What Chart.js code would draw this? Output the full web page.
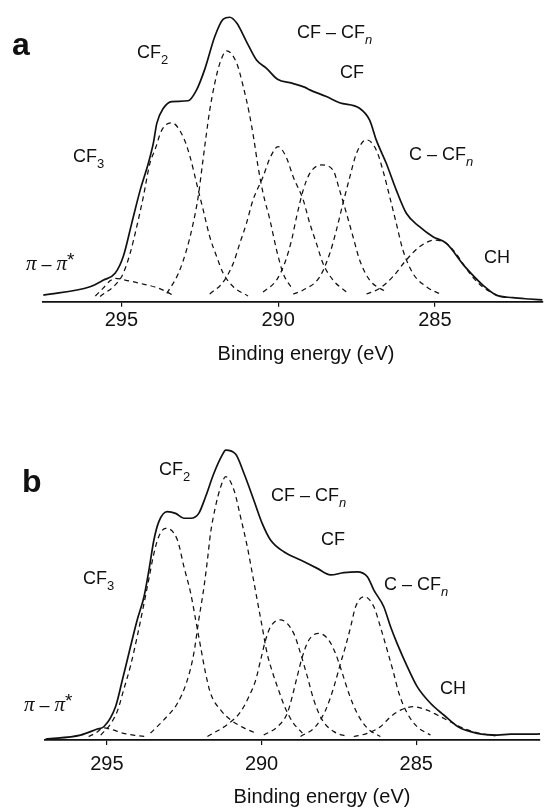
<!DOCTYPE html>
<html>
<head>
<meta charset="utf-8">
<script src="https://cdn.jsdelivr.net/npm/chart.js@4.4.1/dist/chart.umd.min.js"></script>
<style>
  html, body { margin: 0; padding: 0; background: #fff; }
  #wrap { position: relative; width: 544px; height: 808px; }
  canvas { position: absolute; left: 0; }
  #chartA { top: 0; }
  #chartB { top: 404px; }
</style>
</head>
<body>
<div id="wrap">
  <canvas id="chartA" width="544" height="404"></canvas>
  <canvas id="chartB" width="544" height="404"></canvas>
</div>
<script>
// [binding energy (eV), intensity (arb. units, envelope max = 100)]
const tickValues = [295, 290, 285];
const axisTitle = "Binding energy (eV)";

// ---- panel a ----
const envelopeA = [
  [297.49, 0.5], [296.0, 3.5], [295.57, 5.9], [295.2, 8.3], [294.94, 14.3], [294.67, 26.2],
  [294.4, 38.1], [294.14, 47.7], [293.98, 54.9], [293.87, 62.0], [293.66, 67.4], [293.39, 69.8],
  [292.87, 70.1], [292.6, 74.0], [292.33, 81.7], [292.02, 93.1], [291.75, 99.3], [291.54, 100],
  [291.32, 97.9], [291.01, 91.3], [290.69, 84.7], [290.37, 81.7], [290.02, 77.8], [289.56, 76.4],
  [289.14, 74.9], [288.99, 74.0], [288.46, 71.6], [288.04, 69.4], [287.4, 67.4], [287.08, 63.2],
  [286.87, 56.1], [286.55, 47.7], [286.23, 38.1], [285.91, 29.8], [285.49, 25.0], [285.06, 21.4],
  [284.64, 19.1], [284.04, 10.7], [283.47, 4.1], [283.04, 0.5], [282.52, -0.4], [281.98, -0.9],
  [281.57, -1.2],
];
const piPiA = [
  [295.83, 0.2], [295.58, 3.0], [295.35, 5.7], [295.2, 6.5], [294.88, 5.9], [294.4, 4.7],
  [293.93, 3.4], [293.61, 2.0], [293.29, 0],
];
const cf3A = [
  [295.68, 0], [295.15, 4.7], [294.94, 8.3], [294.72, 15.5], [294.51, 25.0], [294.3, 35.7],
  [294.09, 47.7], [293.93, 52.5], [293.71, 59.6], [293.39, 62.2], [293.03, 57.2], [292.81, 50.1],
  [292.6, 40.5], [292.39, 31.0], [292.18, 21.4], [291.96, 14.3], [291.75, 8.3], [291.43, 3.5],
  [290.96, 0.2],
];
const cf2A = [
  [293.55, 1.1], [293.18, 8.3], [292.92, 16.7], [292.71, 26.2], [292.55, 35.7], [292.41, 47.7],
  [292.3, 57.2], [292.18, 66.8], [292.02, 76.4], [291.86, 83.5], [291.64, 88.0], [291.32, 83.5],
  [291.11, 75.1], [290.92, 65.6], [290.77, 56.1], [290.64, 46.5], [290.48, 37.0], [290.26, 27.4],
  [290.05, 16.7], [289.84, 8.3], [289.52, 2.3],
];
const cfCfnA = [
  [292.18, 0.9], [291.75, 5.2], [291.43, 11.9], [291.22, 19.1], [291.01, 26.2], [290.8, 34.6],
  [290.48, 42.9], [290.26, 49.6], [290.0, 53.7], [289.73, 49.6], [289.52, 42.9], [289.2, 34.6],
  [288.99, 26.2], [288.78, 19.1], [288.57, 11.9], [288.25, 5.9], [287.82, 1.6],
];
const cfA = [
  [290.48, 1.6], [290.05, 5.9], [289.79, 11.9], [289.57, 20.2], [289.41, 28.6], [289.2, 38.1],
  [288.99, 44.1], [288.62, 47.1], [288.25, 45.3], [288.04, 38.1], [287.82, 29.8], [287.61, 21.4],
  [287.4, 13.1], [287.08, 5.9], [286.55, 1.6],
];
const cCfnA = [
  [289.52, 0.9], [289.2, 2.3], [288.67, 7.1], [288.35, 15.5], [288.14, 23.8], [287.93, 33.4],
  [287.71, 42.9], [287.5, 51.3], [287.18, 56.1], [286.87, 52.5], [286.66, 45.3], [286.44, 35.7],
  [286.23, 26.2], [286.02, 16.7], [285.7, 8.3], [285.27, 3.5], [284.75, 0.5],
];
const chA = [
  [287.18, 0.9], [286.76, 2.9], [286.34, 7.1], [285.91, 13.1], [285.49, 17.8], [285.01, 20.2],
  [284.64, 19.1], [284.34, 15.6], [284.04, 10.7], [283.74, 6.3], [283.47, 3.4], [283.04, 0.5],
];

// ---- panel b ----
const envelopeB = [
  [296.98, -0.9], [295.85, 0.5], [295.31, 2.6], [295.1, 3.4], [294.72, 10.4], [294.5, 19.7],
  [294.29, 29.0], [294.02, 40.7], [293.8, 48.8], [293.64, 58.1], [293.48, 68.6], [293.32, 75.0],
  [293.05, 78.5], [292.78, 77.9], [292.51, 76.2], [292.29, 76.2], [292.03, 77.9], [291.81, 83.7],
  [291.54, 91.9], [291.27, 98.3], [291.16, 100], [290.84, 98.6], [290.57, 91.9], [290.25, 82.5],
  [289.98, 74.4], [289.71, 68.6], [289.28, 64.5], [288.74, 61.6], [288.2, 58.7], [287.77, 56.4],
  [287.34, 57.2], [286.91, 57.5], [286.58, 55.8], [286.37, 51.1], [286.05, 45.3], [285.83, 38.3],
  [285.62, 32.5], [285.29, 24.4], [284.97, 17.4], [284.54, 11.6], [284.11, 7.5], [283.62, 3.2],
  [283.03, 1.1], [282.38, 0.5], [281.95, 0.8], [281.31, 0.8], [280.99, 0.9],
];
const piPiB = [
  [295.59, 0], [295.36, 1.2], [295.1, 3.0], [294.81, 2.3], [294.49, 1.2], [294.14, 0.5], [293.72, 0],
];
const cf3B = [
  [295.2, 0.5], [294.88, 4.4], [294.65, 9.2], [294.46, 16.2], [294.23, 24.9], [294.01, 35.4],
  [293.81, 45.9], [293.65, 54.6], [293.49, 63.4], [293.33, 69.6], [293.1, 72.7], [292.72, 68.6],
  [292.51, 59.3], [292.29, 50.0], [292.13, 40.7], [291.97, 31.3], [291.81, 22.1], [291.65, 15.1],
  [291.32, 9.2], [291.0, 5.8], [290.57, 3.0], [290.19, 1.2],
];
const cf2B = [
  [293.59, 1.2], [293.16, 5.8], [292.72, 11.6], [292.4, 19.7], [292.19, 29.0], [292.03, 40.7],
  [291.86, 52.3], [291.75, 61.6], [291.65, 70.9], [291.49, 80.2], [291.32, 87.2], [291.16, 90.7],
  [290.89, 86.0], [290.68, 76.7], [290.46, 66.2], [290.3, 57.0], [290.14, 47.6], [289.98, 38.3],
  [289.82, 29.0], [289.64, 22.2], [289.45, 16.2], [289.26, 10.6], [289.0, 5.1], [288.68, 1.2],
];
const cfCfnB = [
  [291.75, 0], [291.08, 4.4], [290.68, 8.6], [290.42, 13.7], [290.19, 19.7], [290.03, 26.7],
  [289.87, 33.7], [289.71, 38.3], [289.39, 40.7], [288.96, 36.0], [288.74, 29.0], [288.52, 20.9],
  [288.31, 12.7], [288.04, 5.8], [287.66, 1.7], [287.23, 0],
];
const cfB = [
  [289.93, 0.5], [289.49, 3.4], [289.17, 8.1], [289.01, 13.9], [288.85, 20.9], [288.68, 27.9],
  [288.47, 33.7], [288.15, 36.0], [287.83, 33.7], [287.61, 29.0], [287.39, 22.1], [287.18, 15.1],
  [286.91, 8.1], [286.58, 2.9], [286.16, 0],
];
const cCfnB = [
  [288.74, 0], [288.26, 3.4], [287.93, 9.2], [287.66, 17.4], [287.45, 25.5], [287.29, 31.3],
  [287.12, 38.3], [286.96, 45.3], [286.69, 48.8], [286.37, 45.3], [286.16, 38.3], [285.94, 30.2],
  [285.73, 22.1], [285.56, 15.1], [285.29, 8.1], [284.97, 3.4], [284.54, 0.5],
];
const chB = [
  [287.02, 0], [286.58, 1.1], [286.16, 3.4], [285.83, 6.9], [285.51, 9.2], [285.08, 10.4],
  [284.65, 9.2], [284.32, 7.5], [283.89, 5.1], [283.41, 2.6], [282.92, 1.0], [282.44, 0.2],
];

// text helpers
const ink = "#111";
const sans = (px, style = "") => `${style} ${px}px "Liberation Sans", Arial, sans-serif`.trim();
const txt = (t) => ({ t, font: sans(18), dy: 0 });
const sub = (t, italic) => ({ t, font: sans(13, italic ? "italic" : ""), dy: 6 });
const pi = () => ({ t: "π", font: 'italic 21px "Liberation Serif", "DejaVu Serif", serif', dy: 0 });
const star = () => ({ t: "*", font: sans(19), dy: -4 });
const bold = (t) => ({ t, font: sans(32, "bold"), dy: 0 });

const labelsA = [
  { parts: [bold("a")], x: 12, y: 55 },
  { parts: [txt("CF"), sub("2")], x: 137, y: 58 },
  { parts: [txt("CF – CF"), sub("n", true)], x: 297, y: 38 },
  { parts: [txt("CF")], x: 340, y: 78 },
  { parts: [txt("C – CF"), sub("n", true)], x: 409, y: 160 },
  { parts: [txt("CF"), sub("3")], x: 73, y: 162 },
  { parts: [pi(), txt(" – "), pi(), star()], x: 26, y: 270 },
  { parts: [txt("CH")], x: 484, y: 263 },
];
const labelsB = [
  { parts: [bold("b")], x: 22, y: 88 },
  { parts: [txt("CF"), sub("2")], x: 159, y: 71 },
  { parts: [txt("CF – CF"), sub("n", true)], x: 271, y: 97 },
  { parts: [txt("CF")], x: 321, y: 141 },
  { parts: [txt("C – CF"), sub("n", true)], x: 384, y: 186 },
  { parts: [txt("CF"), sub("3")], x: 83, y: 180 },
  { parts: [pi(), txt(" – "), pi(), star()], x: 24, y: 307 },
  { parts: [txt("CH")], x: 440, y: 290 },
];

const peakLabels = {
  id: "peakLabels",
  afterDraw(c, args, opts) {
    const ctx = c.ctx;
    ctx.save();
    ctx.fillStyle = ink;
    ctx.textBaseline = "alphabetic";
    ctx.textAlign = "left";
    opts.items.forEach((item) => {
      let x = item.x;
      item.parts.forEach((p) => {
        ctx.font = p.font;
        ctx.fillText(p.t, x, item.y + p.dy);
        x += ctx.measureText(p.t).width;
      });
    });
    // axis title
    ctx.font = sans(20);
    ctx.textAlign = "center";
    ctx.textBaseline = "middle";
    ctx.fillText(axisTitle, opts.titleX, opts.titleY);
    ctx.restore();
  },
};

const makePanel = (id, curves, cfg) => {
  new Chart(document.getElementById(id), {
    type: "line",
    data: {
      datasets: curves.map((curve, i) => ({
        data: curve.map(([x, y]) => ({ x, y })),
        borderColor: ink,
        borderWidth: i === 0 ? 1.7 : 1.25,
        borderDash: i === 0 ? [] : [5, 4],
        pointRadius: 0,
        cubicInterpolationMode: "monotone",
        fill: false,
      })),
    },
    options: {
      responsive: false,
      animation: false,
      devicePixelRatio: 1,
      layout: {
        padding: { top: cfg.top, left: cfg.left, right: cfg.right, bottom: 0 },
      },
      scales: {
        x: {
          type: "linear",
          reverse: true,
          min: cfg.eMin,
          max: cfg.eMax,
          afterFit: (s) => {
            s.height = 404 - cfg.bottom;
          },
          afterBuildTicks: (s) => {
            s.ticks = tickValues.map((v) => ({ value: v }));
          },
          border: { display: true, color: ink, width: 1.8 },
          grid: {
            drawOnChartArea: false,
            drawTicks: true,
            tickLength: 5,
            color: ink,
            lineWidth: 1.2,
          },
          ticks: {
            color: ink,
            padding: cfg.tickPad,
            maxRotation: 0,
            font: { family: '"Liberation Sans", Arial, sans-serif', size: 20 },
          },
        },
        y: { display: false, min: cfg.iMin, max: cfg.iMax },
      },
      plugins: {
        legend: { display: false },
        tooltip: { enabled: false },
        peakLabels: { items: cfg.labels, titleX: cfg.titleX, titleY: cfg.titleY },
      },
    },
    plugins: [peakLabels],
  });
};

makePanel("chartA", [envelopeA, piPiA, cf3A, cf2A, cfCfnA, cfA, cCfnA, chA], {
  top: 10, left: 43, right: 1, bottom: 301.7,
  eMin: 281.55, eMax: 297.5, iMin: -1.86, iMax: 102.6,
  tickPad: 2, labels: labelsA, titleX: 306, titleY: 354,
});
makePanel("chartB", [envelopeB, piPiB, cf3B, cf2B, cfCfnB, cfB, cCfnB, chB], {
  top: 20, left: 45, right: 4, bottom: 336,
  eMin: 281.0, eMax: 297.0, iMin: -1.22, iMax: 109.1,
  tickPad: 7, labels: labelsB, titleX: 322, titleY: 393,
});
</script>
</body>
</html>
